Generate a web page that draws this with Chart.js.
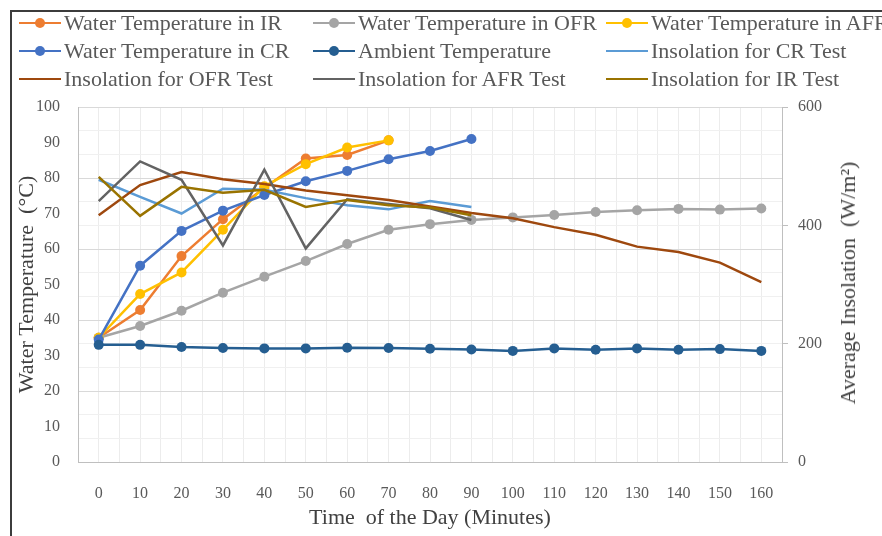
<!DOCTYPE html>
<html>
<head>
<meta charset="utf-8">
<script src="https://cdn.jsdelivr.net/npm/chart.js@4"></script>
<style>
    html, body { margin: 0; padding: 0; background: #fff; }
    #wrap { position: relative; width: 882px; height: 536px; overflow: hidden; font-family: 'Liberation Serif', 'Times New Roman', serif; }
    #frame { position: absolute; left: 10px; top: 10px; width: 900px; height: 600px; border-left: 2px solid #3c3c3c; border-top: 2px solid #3c3c3c; }
    #chart { position: absolute; left: 0; top: 0; }
    #legend { position: absolute; left: 19px; top: 10px; display: grid; grid-template-columns: 294px 293px 300px; row-gap: 3px; }
    .item { display: flex; align-items: center; height: 25px; font-size: 22px; color: #595959; white-space: nowrap; }
    .swatch { position: relative; width: 42px; height: 10px; margin-right: 3px; flex: none; }
    .swatch .ln { position: absolute; left: 0; right: 0; top: 4px; height: 2.5px; }
    .swatch .dot { position: absolute; left: 16px; top: 0; width: 10px; height: 10px; border-radius: 50%; }
    #rtitle { position: absolute; left: 848px; top: 283px; transform: translate(-50%, -50%) rotate(-90deg); font-size: 22px; color: #404040; white-space: nowrap; }
</style>
</head>
<body>
<div id="wrap">
    <div id="frame"></div>
    <canvas id="chart" width="882" height="536"></canvas>
    <div id="legend"></div>
    <div id="rtitle">Average Insolation&nbsp; (W/m²)</div>
</div>
<script>
// ── Data ─────────────────────────────────────────────────────────────
const minutes = ['0', '10', '20', '30', '40', '50', '60', '70', '80', '90', '100', '110', '120', '130', '140', '150', '160'];

// water / ambient temperature (°C), left axis
const tempIR  = [35, 42.8, 58.0, 68.4, 77.2, 85.5, 86.5, 90.6];
const tempOFR = [35, 38.3, 42.6, 47.7, 52.2, 56.6, 61.4, 65.4, 67.0, 68.2, 68.9, 69.6, 70.4, 70.9, 71.3, 71.1, 71.4];
const tempAFR = [35, 47.3, 53.4, 65.4, 77.7, 83.9, 88.6, 90.6];
const tempCR  = [34.5, 55.3, 65.1, 70.8, 75.2, 79.1, 82.0, 85.3, 87.6, 91.0];
const tempAmbient = [33.0, 33.0, 32.4, 32.1, 32.0, 32.0, 32.2, 32.1, 31.9, 31.7, 31.3, 32.0, 31.6, 32.0, 31.6, 31.8, 31.3];

// insolation (W/m²), right axis
const insCR  = [477, 448, 420, 462, 460, 446, 434, 427, 441, 431];
const insOFR = [417, 468, 490, 478, 470, 459, 451, 443, 432, 421, 412, 397, 384, 364, 355, 337, 304];
const insAFR = [441, 508, 477, 366, 494, 361, 444, 436, 429, 409];
const insIR  = [482, 416, 465, 455, 460, 431, 443, 434, 430, 417];

const TXT = '#595959';
const FONT = "'Liberation Serif', 'Times New Roman', serif";

function series(label, data, color, axis, dots) {
    return {
        label, data,
        yAxisID: axis,
        borderColor: color,
        backgroundColor: color,
        borderWidth: 2.5,
        pointRadius: dots ? 5 : 0,
        pointHoverRadius: dots ? 5 : 0,
        pointBorderWidth: 0,
        tension: 0,
        _dots: dots
    };
}

const datasets = [
    series('Water Temperature in IR', tempIR, '#ED7D31', 'y', true),
    series('Water Temperature in OFR', tempOFR, '#A5A5A5', 'y', true),
    series('Water Temperature in AFR', tempAFR, '#FFC000', 'y', true),
    series('Water Temperature in CR', tempCR, '#4472C4', 'y', true),
    series('Ambient Temperature', tempAmbient, '#255E91', 'y', true),
    series('Insolation for CR Test', insCR, '#5B9BD5', 'y2', false),
    series('Insolation for OFR Test', insOFR, '#9E480E', 'y2', false),
    series('Insolation for AFR Test', insAFR, '#636363', 'y2', false),
    series('Insolation for IR Test', insIR, '#997300', 'y2', false)
];
// later series on top, as in the original
datasets.forEach((d, i) => { d.order = datasets.length - i; });

// ── Legend (html, three columns) ─────────────────────────────────────
const legendEl = document.getElementById('legend');
datasets.forEach(d => {
    const item = document.createElement('div');
    item.className = 'item';
    const sw = document.createElement('span');
    sw.className = 'swatch';
    sw.innerHTML = '<span class="ln" style="background:' + d.borderColor + '"></span>' +
        (d._dots ? '<span class="dot" style="background:' + d.borderColor + '"></span>' : '');
    item.appendChild(sw);
    item.appendChild(document.createTextNode(d.label));
    legendEl.appendChild(item);
});

// ── Chart ────────────────────────────────────────────────────────────
new Chart(document.getElementById('chart').getContext('2d'), {
    type: 'line',
    data: { labels: minutes, datasets },
    options: {
        responsive: false,
        animation: false,
        layout: { padding: { top: 107, left: 0, right: 0, bottom: 0 } },
        plugins: { legend: { display: false }, tooltip: { enabled: false } },
        scales: {
            x: {
                type: 'category',
                offset: true,
                grid: { color: '#ececec', offset: true, drawTicks: false },
                border: { color: '#bfbfbf' },
                ticks: { color: TXT, font: { family: FONT, size: 16 }, padding: 22, maxRotation: 0, autoSkip: false },
                title: { display: true, text: 'Time  of the Day (Minutes)', color: '#404040', font: { family: FONT, size: 22 }, padding: { top: 0, bottom: 5 } },
                afterFit: s => { s.height = 74; }
            },
            x2: {
                type: 'category',
                labels: minutes,
                position: 'bottom',
                offset: true,
                grid: { color: '#ececec', offset: false, drawTicks: false },
                border: { display: false },
                ticks: { display: false },
                afterFit: s => { s.height = 0; }
            },
            y: {
                position: 'left',
                min: 0, max: 100,
                ticks: { stepSize: 10, color: TXT, font: { family: FONT, size: 16 }, padding: 10 },
                grid: { display: false },
                border: { color: '#bfbfbf' },
                title: { display: true, text: 'Water Temperature  (°C)', color: '#404040', font: { family: FONT, size: 22 }, padding: { top: 14, bottom: 0 } },
                afterFit: s => { s.width = 78; }
            },
            y2: {
                position: 'right',
                min: 0, max: 600,
                ticks: {
                    stepSize: 20, color: TXT, font: { family: FONT, size: 16 }, padding: 10,
                    callback: v => (v % 100 === 0 ? v : '')
                },
                grid: {
                    color: c => (c.tick && c.tick.value % 60 === 0 ? '#d9d9d9' : '#f0f0f0'),
                    tickColor: c => (c.tick && c.tick.value % 100 === 0 ? '#bfbfbf' : 'rgba(0,0,0,0)'),
                    tickLength: 6
                },
                border: { color: '#bfbfbf' },
                afterFit: s => { s.width = 100; }
            }
        }
    }
});
</script>
</body>
</html>
